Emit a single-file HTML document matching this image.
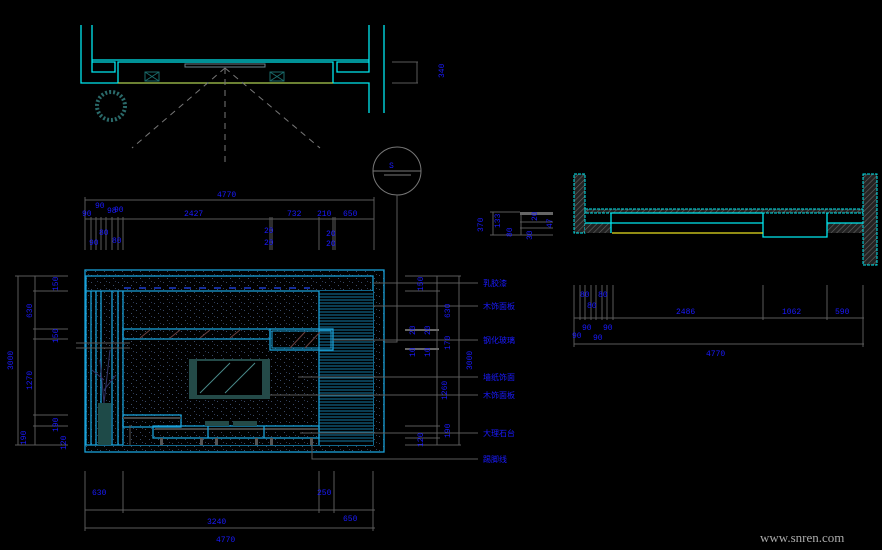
<!DOCTYPE html>
<html><head><meta charset="utf-8"><style>
html,body{margin:0;padding:0;background:#000;width:882px;height:550px;overflow:hidden}
svg{display:block}
text{font-family:"Liberation Mono","Noto Sans CJK SC",monospace;fill:#1a1aff;font-size:8px}
.d{stroke:#5a5a5a;stroke-width:1;fill:none}
.c{stroke:#00e8f0;stroke-width:1.3;fill:none}
.f{stroke:#1aa0d8;stroke-width:1.3;fill:none}
</style></head><body>
<svg width="882" height="550" viewBox="0 0 882 550" xmlns="http://www.w3.org/2000/svg">
<defs>
<pattern id="h" width="4" height="4" patternUnits="userSpaceOnUse" patternTransform="rotate(45)"><rect width="4" height="4" fill="#222"/><line x1="0" y1="0" x2="0" y2="4" stroke="#666" stroke-width="1.2"/></pattern>
<pattern id="n" width="9" height="7" patternUnits="userSpaceOnUse"><rect width="9" height="7" fill="#000"/><rect x="1" y="2" width="1" height="1" fill="#3a4a66"/><rect x="5" y="5" width="1" height="1" fill="#3a4a66"/><rect x="7" y="1" width="1" height="1" fill="#2c3a55"/></pattern>
</defs>

<!-- top plan -->
<g class="c">
<polyline points="92,25 92,72 115,72 115,62 92,62"/>
<polyline points="81,25 81,83 369,83 369,113"/>
<line x1="92" y1="60" x2="369" y2="60"/>
<polyline points="118,83 118,62 333,62 333,83"/>
<polyline points="369,62 337,62 337,72 369,72 369,25"/>
<line x1="384" y1="25" x2="384" y2="113"/>
</g>
<line x1="118" y1="83" x2="333" y2="83" stroke="#d8c82a" stroke-width="1"/>
<rect x="185" y="64" width="80" height="3" fill="none" stroke="#6a7f8a"/>
<g stroke="#1a6a6a" fill="none"><rect x="145" y="72" width="14" height="9"/><line x1="145" y1="72" x2="159" y2="81"/><line x1="159" y1="72" x2="145" y2="81"/>
<rect x="270" y="72" width="14" height="9"/><line x1="270" y1="72" x2="284" y2="81"/><line x1="284" y1="72" x2="270" y2="81"/></g>
<g stroke="#777" stroke-dasharray="6,5" fill="none"><line x1="225" y1="68" x2="132" y2="148"/><line x1="225" y1="68" x2="320" y2="148"/><line x1="225" y1="68" x2="225" y2="162"/></g>
<circle cx="111" cy="106" r="14" fill="none" stroke="#2a6a6a" stroke-width="4" stroke-dasharray="2,2"/>
<g class="d"><line x1="392" y1="62" x2="418" y2="62"/><line x1="392" y1="83" x2="418" y2="83"/><line x1="417" y1="62" x2="417" y2="83"/></g>
<text transform="translate(444,78) rotate(-90)">340</text>

<!-- section symbol -->
<circle cx="397" cy="171" r="24" fill="none" stroke="#777"/>
<line x1="373" y1="171" x2="421" y2="171" stroke="#777"/>
<line x1="384" y1="175" x2="411" y2="175" stroke="#777"/>
<text x="389" y="168" font-size="15">S</text>
<polyline class="d" points="397,195 397,342 320,342"/>

<!-- top dims -->
<g class="d">
<line x1="85" y1="200" x2="374" y2="200"/><line x1="85" y1="219" x2="374" y2="219"/>
<line x1="85" y1="197" x2="85" y2="250"/><line x1="374" y1="197" x2="374" y2="250"/>
<line x1="91" y1="217" x2="91" y2="250"/><line x1="96" y1="217" x2="96" y2="250"/><line x1="101" y1="217" x2="101" y2="250"/><line x1="106" y1="217" x2="106" y2="250"/><line x1="112" y1="217" x2="112" y2="250"/><line x1="118" y1="217" x2="118" y2="250"/><line x1="123" y1="217" x2="123" y2="250"/>
<line x1="270" y1="217" x2="270" y2="250"/><line x1="272" y1="217" x2="272" y2="250"/><line x1="319" y1="217" x2="319" y2="250"/><line x1="333" y1="217" x2="333" y2="250"/><line x1="335" y1="217" x2="335" y2="250"/>
</g>
<text x="217" y="197">4770</text>
<text x="82" y="216">90</text><text x="95" y="208">90</text><text x="107" y="213">98</text><text x="114" y="212">90</text>
<text x="184" y="216">2427</text><text x="287" y="216">732</text><text x="317" y="216">210</text><text x="343" y="216">650</text>
<text x="99" y="235">80</text><text x="89" y="245">90</text><text x="112" y="243">80</text>
<text x="264" y="233">20</text><text x="264" y="245">20</text><text x="326" y="236">20</text><text x="326" y="246">20</text>

<!-- elevation -->
<rect x="85" y="270" width="299" height="182" fill="url(#n)"/>
<rect x="85" y="270" width="299" height="182" class="f"/>
<rect x="86" y="276" width="287" height="169" fill="#000" class="f"/>
<rect x="123" y="291" width="196" height="154" fill="url(#n)"/>
<line x1="86" y1="291" x2="373" y2="291" class="f"/>
<line x1="124" y1="288" x2="310" y2="288" stroke="#1a3acc" stroke-width="1.5" stroke-dasharray="7,8"/>
<g class="f"><line x1="91" y1="291" x2="91" y2="445"/><line x1="96" y1="291" x2="96" y2="445"/><line x1="101" y1="291" x2="101" y2="445"/><line x1="112" y1="291" x2="112" y2="445"/><line x1="118" y1="291" x2="118" y2="445"/><line x1="123" y1="291" x2="123" y2="445"/></g>
<rect x="98" y="403" width="13" height="42" fill="#1e4a48"/>
<g stroke="#336" fill="none"><path d="M104 403 L100 360 M104 403 L110 350 M104 380 L92 370 M104 390 L116 375"/></g>
<!-- slats -->
<rect x="319" y="291" width="54" height="154" fill="#000"/>
<g stroke="#1aa0d8" stroke-width="0.8">
<line x1="319" y1="294" x2="373" y2="294"/><line x1="319" y1="297" x2="373" y2="297"/><line x1="319" y1="300" x2="373" y2="300"/><line x1="319" y1="303" x2="373" y2="303"/><line x1="319" y1="306" x2="373" y2="306"/><line x1="319" y1="309" x2="373" y2="309"/><line x1="319" y1="312" x2="373" y2="312"/><line x1="319" y1="315" x2="373" y2="315"/><line x1="319" y1="318" x2="373" y2="318"/><line x1="319" y1="321" x2="373" y2="321"/><line x1="319" y1="324" x2="373" y2="324"/><line x1="319" y1="327" x2="373" y2="327"/><line x1="319" y1="330" x2="373" y2="330"/><line x1="319" y1="333" x2="373" y2="333"/><line x1="319" y1="336" x2="373" y2="336"/><line x1="319" y1="339" x2="373" y2="339"/><line x1="319" y1="342" x2="373" y2="342"/><line x1="319" y1="345" x2="373" y2="345"/><line x1="319" y1="348" x2="373" y2="348"/><line x1="319" y1="351" x2="373" y2="351"/><line x1="319" y1="354" x2="373" y2="354"/><line x1="319" y1="357" x2="373" y2="357"/><line x1="319" y1="360" x2="373" y2="360"/><line x1="319" y1="363" x2="373" y2="363"/><line x1="319" y1="366" x2="373" y2="366"/><line x1="319" y1="369" x2="373" y2="369"/><line x1="319" y1="372" x2="373" y2="372"/><line x1="319" y1="375" x2="373" y2="375"/><line x1="319" y1="378" x2="373" y2="378"/><line x1="319" y1="381" x2="373" y2="381"/><line x1="319" y1="384" x2="373" y2="384"/><line x1="319" y1="387" x2="373" y2="387"/><line x1="319" y1="390" x2="373" y2="390"/><line x1="319" y1="393" x2="373" y2="393"/><line x1="319" y1="396" x2="373" y2="396"/><line x1="319" y1="399" x2="373" y2="399"/><line x1="319" y1="402" x2="373" y2="402"/><line x1="319" y1="405" x2="373" y2="405"/><line x1="319" y1="408" x2="373" y2="408"/><line x1="319" y1="411" x2="373" y2="411"/><line x1="319" y1="414" x2="373" y2="414"/><line x1="319" y1="417" x2="373" y2="417"/><line x1="319" y1="420" x2="373" y2="420"/><line x1="319" y1="423" x2="373" y2="423"/><line x1="319" y1="426" x2="373" y2="426"/><line x1="319" y1="429" x2="373" y2="429"/><line x1="319" y1="432" x2="373" y2="432"/><line x1="319" y1="435" x2="373" y2="435"/><line x1="319" y1="438" x2="373" y2="438"/><line x1="319" y1="441" x2="373" y2="441"/>
</g>
<line x1="319" y1="291" x2="319" y2="445" class="f"/>
<!-- shelf -->
<rect x="123" y="329" width="147" height="10" fill="#000" class="f"/>
<rect x="270" y="329" width="63" height="21" fill="#000" class="f"/>
<rect x="272" y="331" width="59" height="17" fill="none" stroke="#1aa0d8"/>
<g stroke="#6a4040"><line x1="140" y1="338" x2="150" y2="330"/><line x1="170" y1="338" x2="180" y2="330"/><line x1="200" y1="338" x2="210" y2="330"/><line x1="230" y1="338" x2="240" y2="330"/><line x1="290" y1="348" x2="305" y2="332"/><line x1="305" y1="348" x2="320" y2="332"/></g>
<!-- TV -->
<rect x="189" y="359" width="81" height="40" fill="#244a48"/>
<rect x="197" y="361" width="65" height="34" fill="#000"/>
<g stroke="#4a8a8a"><line x1="200" y1="393" x2="230" y2="363"/><line x1="225" y1="393" x2="255" y2="363"/></g>
<!-- cabinet -->
<rect x="123" y="415" width="58" height="12" fill="#000" class="f"/>
<line x1="123" y1="418" x2="181" y2="418" stroke="#444" stroke-width="2"/>
<rect x="153" y="426" width="166" height="12" fill="#000" class="f"/>
<line x1="155" y1="429" x2="318" y2="429" stroke="#444" stroke-width="2"/>
<line x1="208" y1="426" x2="208" y2="438" class="f"/><line x1="264" y1="426" x2="264" y2="438" class="f"/>
<rect x="205" y="421" width="24" height="5" fill="#244a48"/><rect x="233" y="421" width="24" height="5" fill="#244a48"/>
<g fill="#555"><rect x="160" y="438" width="3" height="7"/><rect x="200" y="438" width="3" height="7"/><rect x="215" y="438" width="3" height="7"/><rect x="255" y="438" width="3" height="7"/><rect x="270" y="438" width="3" height="7"/><rect x="310" y="438" width="3" height="7"/></g>
<line x1="130" y1="425" x2="130" y2="445" stroke="#555"/>

<!-- left dims -->
<g class="d">
<line x1="18" y1="276" x2="18" y2="445"/><line x1="35" y1="276" x2="35" y2="445"/>
<line x1="15" y1="276" x2="68" y2="276"/><line x1="33" y1="291" x2="68" y2="291"/><line x1="33" y1="329" x2="68" y2="329"/><line x1="33" y1="339" x2="68" y2="339"/><line x1="33" y1="415" x2="68" y2="415"/><line x1="33" y1="426" x2="68" y2="426"/><line x1="15" y1="445" x2="68" y2="445"/>
<line x1="76" y1="343" x2="130" y2="343"/><line x1="76" y1="348" x2="130" y2="348"/>
</g>
<g font-size="7"><text transform="translate(58,291) rotate(-90)">150</text><text transform="translate(32,318) rotate(-90)">630</text><text transform="translate(58,343) rotate(-90)">150</text><text transform="translate(13,370) rotate(-90)">3000</text><text transform="translate(32,390) rotate(-90)">1270</text><text transform="translate(58,432) rotate(-90)">190</text><text transform="translate(26,445) rotate(-90)">190</text><text transform="translate(66,450) rotate(-90)">120</text></g>

<!-- right dims & labels -->
<g class="d">
<line x1="437" y1="276" x2="437" y2="445"/><line x1="459" y1="276" x2="459" y2="445"/>
<line x1="405" y1="276" x2="461" y2="276"/><line x1="405" y1="291" x2="440" y2="291"/><line x1="405" y1="426" x2="440" y2="426"/><line x1="405" y1="438" x2="440" y2="438"/><line x1="405" y1="445" x2="461" y2="445"/>
<line x1="373" y1="283" x2="478" y2="283"/><line x1="373" y1="306" x2="478" y2="306"/><line x1="333" y1="340" x2="478" y2="340"/><line x1="298" y1="377" x2="478" y2="377"/><line x1="270" y1="395" x2="478" y2="395"/><line x1="300" y1="433" x2="478" y2="433"/>
<polyline points="312,445 312,459 478,459"/>
</g>
<rect x="405" y="329" width="34" height="2" fill="#666"/><rect x="405" y="348" width="34" height="2" fill="#666"/>
<g font-size="7"><text transform="translate(423,291) rotate(-90)">150</text><text transform="translate(450,318) rotate(-90)">630</text><text transform="translate(415,335) rotate(-90)">20</text><text transform="translate(430,335) rotate(-90)">20</text><text transform="translate(450,350) rotate(-90)">170</text><text transform="translate(415,357) rotate(-90)">10</text><text transform="translate(430,357) rotate(-90)">10</text><text transform="translate(472,370) rotate(-90)">3000</text><text transform="translate(447,400) rotate(-90)">1260</text><text transform="translate(450,438) rotate(-90)">190</text><text transform="translate(423,447) rotate(-90)">120</text></g>
<g font-size="7.5"><text x="483" y="286">乳胶漆</text><text x="483" y="309">木饰面板</text><text x="483" y="343">钢化玻璃</text><text x="483" y="380">墙纸饰面</text><text x="483" y="398">木饰面板</text><text x="483" y="436">大理石台</text><text x="483" y="462">踢脚线</text></g>

<!-- bottom dims -->
<g class="d">
<line x1="85" y1="471" x2="85" y2="531"/><line x1="123" y1="471" x2="123" y2="513"/><line x1="319" y1="471" x2="319" y2="513"/><line x1="334" y1="471" x2="334" y2="513"/><line x1="373" y1="471" x2="373" y2="531"/>
<line x1="85" y1="510" x2="375" y2="510"/><line x1="85" y1="528" x2="375" y2="528"/>
</g>
<text x="92" y="495">630</text><text x="317" y="495">250</text><text x="207" y="524">3240</text><text x="343" y="521">650</text><text x="216" y="542">4770</text>

<!-- right section -->
<rect x="574" y="174" width="11" height="59" fill="url(#h)" stroke="#00e8f0" stroke-dasharray="3,1"/>
<rect x="585" y="209" width="278" height="4" fill="url(#h)" stroke="#00e8f0" stroke-dasharray="3,1"/>
<rect x="585" y="223" width="26" height="10" fill="url(#h)"/>
<rect x="827" y="223" width="36" height="10" fill="url(#h)"/>
<rect x="863" y="174" width="14" height="91" fill="url(#h)" stroke="#00e8f0" stroke-dasharray="3,1"/>
<g class="c"><line x1="611" y1="213" x2="611" y2="233"/><line x1="611" y1="213" x2="763" y2="213"/><line x1="611" y1="223" x2="763" y2="223"/><polyline points="763,213 763,237 827,237 827,213"/><line x1="827" y1="223" x2="863" y2="223"/><line x1="585" y1="223" x2="611" y2="223"/></g>
<line x1="612" y1="233" x2="763" y2="233" stroke="#e8e020" stroke-width="1.2"/>
<g class="d">
<line x1="574" y1="318" x2="864" y2="318"/><line x1="574" y1="344" x2="864" y2="344"/>
<line x1="574" y1="285" x2="574" y2="347"/><line x1="580" y1="285" x2="580" y2="320"/><line x1="585" y1="285" x2="585" y2="320"/><line x1="591" y1="285" x2="591" y2="320"/><line x1="596" y1="285" x2="596" y2="320"/><line x1="602" y1="285" x2="602" y2="320"/><line x1="607" y1="285" x2="607" y2="320"/><line x1="613" y1="285" x2="613" y2="320"/><line x1="763" y1="285" x2="763" y2="320"/><line x1="827" y1="285" x2="827" y2="320"/><line x1="863" y1="285" x2="863" y2="347"/>
</g>
<text x="580" y="297">80</text><text x="598" y="297">80</text><text x="587" y="308">80</text><text x="676" y="314">2486</text><text x="782" y="314">1062</text><text x="835" y="314">590</text>
<text x="582" y="330">90</text><text x="603" y="330">90</text><text x="572" y="338">90</text><text x="593" y="340">90</text><text x="706" y="356">4770</text>
<!-- small detail -->
<g class="d"><line x1="490" y1="212" x2="520" y2="212"/><line x1="490" y1="235" x2="553" y2="235"/><line x1="493" y1="212" x2="493" y2="235"/><line x1="521" y1="212" x2="521" y2="235"/><line x1="520" y1="222" x2="553" y2="222"/><line x1="520" y1="228" x2="553" y2="228"/></g>
<rect x="520" y="212" width="33" height="3" fill="#666"/>
<g font-size="6"><text transform="translate(483,232) rotate(-90)">370</text><text transform="translate(500,228) rotate(-90)">133</text><text transform="translate(512,237) rotate(-90)">80</text><text transform="translate(537,221) rotate(-90)">20</text><text transform="translate(552,228) rotate(-90)">47</text><text transform="translate(532,240) rotate(-90)">30</text></g>

<text x="760" y="542" style="font-family:'Liberation Serif',serif;fill:#aaa;font-size:13px">www.snren.com</text>
</svg>
</body></html>
